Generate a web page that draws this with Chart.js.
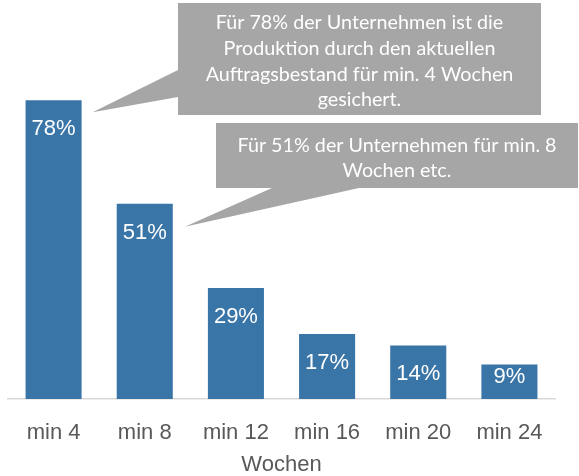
<!DOCTYPE html>
<html>
<head>
<meta charset="utf-8">
<script src="https://cdn.jsdelivr.net/npm/chart.js@4.4.1/dist/chart.umd.min.js"></script>
<style>
  html, body { margin: 0; padding: 0; background: #fff; }
  canvas { display: block; }
</style>
</head>
<body>
<canvas id="myChart" width="579" height="476"></canvas>
<script>
// Daten
const categories = ['min 4', 'min 8', 'min 12', 'min 16', 'min 20', 'min 24'];
const shares = [78, 51, 29, 17, 14, 9];
const axisTitle = 'Wochen';
const note1 = ['Für 78% der Unternehmen ist die', 'Produktion durch den aktuellen', 'Auftragsbestand für min. 4 Wochen', 'gesichert.'];
const note2 = ['Für 51% der Unternehmen für min. 8', 'Wochen etc.'];

const barColor = '#3A75A7';
const labelFont = '22px "Liberation Sans", Arial, sans-serif';

// Werte in den Balken
const valueLabels = {
  id: 'valueLabels',
  afterDatasetsDraw(chart) {
    const ctx = chart.ctx;
    const meta = chart.getDatasetMeta(0);
    ctx.save();
    ctx.font = labelFont;
    ctx.fillStyle = '#ffffff';
    ctx.textAlign = 'center';
    ctx.textBaseline = 'middle';
    meta.data.forEach((bar, i) => {
      const y = Math.min(bar.y + 29, bar.base - 22);
      ctx.fillText(shares[i] + '%', bar.x, y);
    });
    ctx.restore();
  }
};

// Sprechblasen
function drawCallout(ctx, box, tip, base, lines, lineY) {
  ctx.fillStyle = '#A6A6A6';
  ctx.fillRect(box.x, box.y, box.w, box.h);
  ctx.beginPath();
  ctx.moveTo(base[0][0], base[0][1]);
  ctx.lineTo(tip[0], tip[1]);
  ctx.lineTo(base[1][0], base[1][1]);
  ctx.closePath();
  ctx.fill();
  ctx.fillStyle = '#ffffff';
  ctx.textAlign = 'center';
  ctx.textBaseline = 'middle';
  lines.forEach((t, i) => ctx.fillText(t, box.x + box.w / 2, lineY[i]));
}

const callouts = {
  id: 'callouts',
  afterDraw(chart) {
    const ctx = chart.ctx;
    const bars = chart.getDatasetMeta(0).data;
    ctx.save();
    // Schriftgröße an die Breite anpassen
    ctx.font = '100px Lato, "Noto Sans", sans-serif';
    const w = ctx.measureText(note1[2]).width;
    const size = 100 * 308 / w;
    ctx.font = size.toFixed(2) + 'px Lato, "Noto Sans", sans-serif';

    const b1 = bars[0];
    const tip1 = [b1.x + b1.width / 2 + 11, b1.y + 12];
    drawCallout(ctx, { x: 178, y: 3, w: 363, h: 112 }, tip1,
      [[178, 70], [178, 97]], note1, [23, 49, 75, 100]);

    const b2 = bars[1];
    const tip2 = [b2.x + b2.width / 2 + 12, b2.y + 23];
    drawCallout(ctx, { x: 216, y: 123, w: 362, h: 65 }, tip2,
      [[272, 188], [359, 188]], note2, [146, 171]);
    ctx.restore();
  }
};

new Chart(document.getElementById('myChart'), {
  type: 'bar',
  data: {
    labels: categories,
    datasets: [{
      data: shares,
      backgroundColor: barColor,
      categoryPercentage: 1,
      barPercentage: 0.615,
    }],
  },
  options: {
    responsive: false,
    animation: false,
    devicePixelRatio: 1,
    layout: { padding: { left: 8, right: 24, top: 16, bottom: 0 } },
    plugins: {
      legend: { display: false },
      tooltip: { enabled: false },
    },
    scales: {
      x: {
        grid: { display: false, drawTicks: false },
        border: { color: '#D9D9D9', width: 1.5 },
        ticks: {
          color: '#595959',
          font: { family: '"Liberation Sans", Arial, sans-serif', size: 22 },
          padding: 21,
          maxRotation: 0,
        },
        title: {
          display: true,
          text: axisTitle,
          color: '#595959',
          font: { family: '"Liberation Sans", Arial, sans-serif', size: 22, lineHeight: 1 },
          padding: { top: 0, bottom: 0 },
        },
        afterFit(scale) { scale.height = 77; },
      },
      y: {
        display: false,
        min: 0,
        max: 100,
      },
    },
  },
  plugins: [valueLabels, callouts],
});
</script>
</body>
</html>
